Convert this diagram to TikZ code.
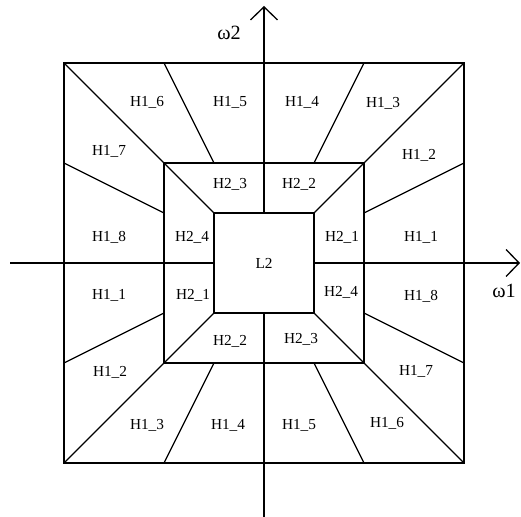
\documentclass[tikz,border=0pt]{standalone}
\usepackage{fontspec}
\setmainfont{Liberation Serif}
\usetikzlibrary{arrows.meta}

\begin{document}
\begin{tikzpicture}[line width=0.75pt,
  lbl/.style={font=\fontsize{8.7}{10}\selectfont, inner sep=0pt},
  axlbl/.style={font=\fontsize{11.5}{13}\selectfont, inner sep=0pt},
  axarrow/.style={-{Straight Barb[length=2.6mm,width=5.4mm,line width=0.75pt]}}]
\useasboundingbox (-5.28,-5.08) rectangle (5.14,5.26);

% Axes
\draw[axarrow] (0,1) -- (0,5.14);
\draw (0,-1) -- (0,-5.08);
\draw[axarrow] (1,0) -- (5.12,0);
\draw (-1,0) -- (-5.08,0);

\node[axlbl] (w2) at (-0.7,4.6) {ω2};
\node[axlbl] (w1) at (4.8,-0.56) {ω1};

% Squares
\draw (-4,-4) rectangle (4,4);
\draw (-2,-2) rectangle (2,2);
\draw (-1,-1) rectangle (1,1);

% Corner diagonals
\draw (-4,4) -- (-2,2) -- (-1,1);
\draw (4,4) -- (2,2) -- (1,1);
\draw (-4,-4) -- (-2,-2) -- (-1,-1);
\draw (4,-4) -- (2,-2) -- (1,-1);

% Side lines
\draw (-2,4) -- (-1,2);
\draw (2,4) -- (1,2);
\draw (-2,-4) -- (-1,-2);
\draw (2,-4) -- (1,-2);
\draw (-4,2) -- (-2,1);
\draw (-4,-2) -- (-2,-1);
\draw (4,2) -- (2,1);
\draw (4,-2) -- (2,-1);

% Centre
\node[lbl] (l2) at (0,0) {L2};

% Upper half, outer ring
\node[lbl] (a6) at (-2.34,3.22) {H1\_6};
\node[lbl] (a5) at (-0.68,3.22) {H1\_5};
\node[lbl] (a4) at (0.76,3.22) {H1\_4};
\node[lbl] (a3) at (2.38,3.2) {H1\_3};
\node[lbl] (a7) at (-3.1,2.24) {H1\_7};
\node[lbl] (a2) at (3.1,2.16) {H1\_2};
\node[lbl] (a8) at (-3.1,0.52) {H1\_8};
\node[lbl] (a1) at (3.14,0.52) {H1\_1};

% Upper half, middle ring
\node[lbl] (b3) at (-0.68,1.58) {H2\_3};
\node[lbl] (b2) at (0.7,1.58) {H2\_2};
\node[lbl] (b4) at (-1.44,0.52) {H2\_4};
\node[lbl] (b1) at (1.56,0.52) {H2\_1};

% Lower half, middle ring
\node[lbl] (c1) at (-1.42,-0.64) {H2\_1};
\node[lbl] (c4) at (1.54,-0.58) {H2\_4};
\node[lbl] (c2) at (-0.68,-1.56) {H2\_2};
\node[lbl] (c3) at (0.74,-1.52) {H2\_3};

% Lower half, outer ring
\node[lbl] (d1) at (-3.1,-0.64) {H1\_1};
\node[lbl] (d8) at (3.14,-0.66) {H1\_8};
\node[lbl] (d2) at (-3.08,-2.18) {H1\_2};
\node[lbl] (d7) at (3.04,-2.16) {H1\_7};
\node[lbl] (d3) at (-2.34,-3.24) {H1\_3};
\node[lbl] (d4) at (-0.72,-3.24) {H1\_4};
\node[lbl] (d5) at (0.7,-3.24) {H1\_5};
\node[lbl] (d6) at (2.46,-3.2) {H1\_6};
\end{tikzpicture}
\end{document}
